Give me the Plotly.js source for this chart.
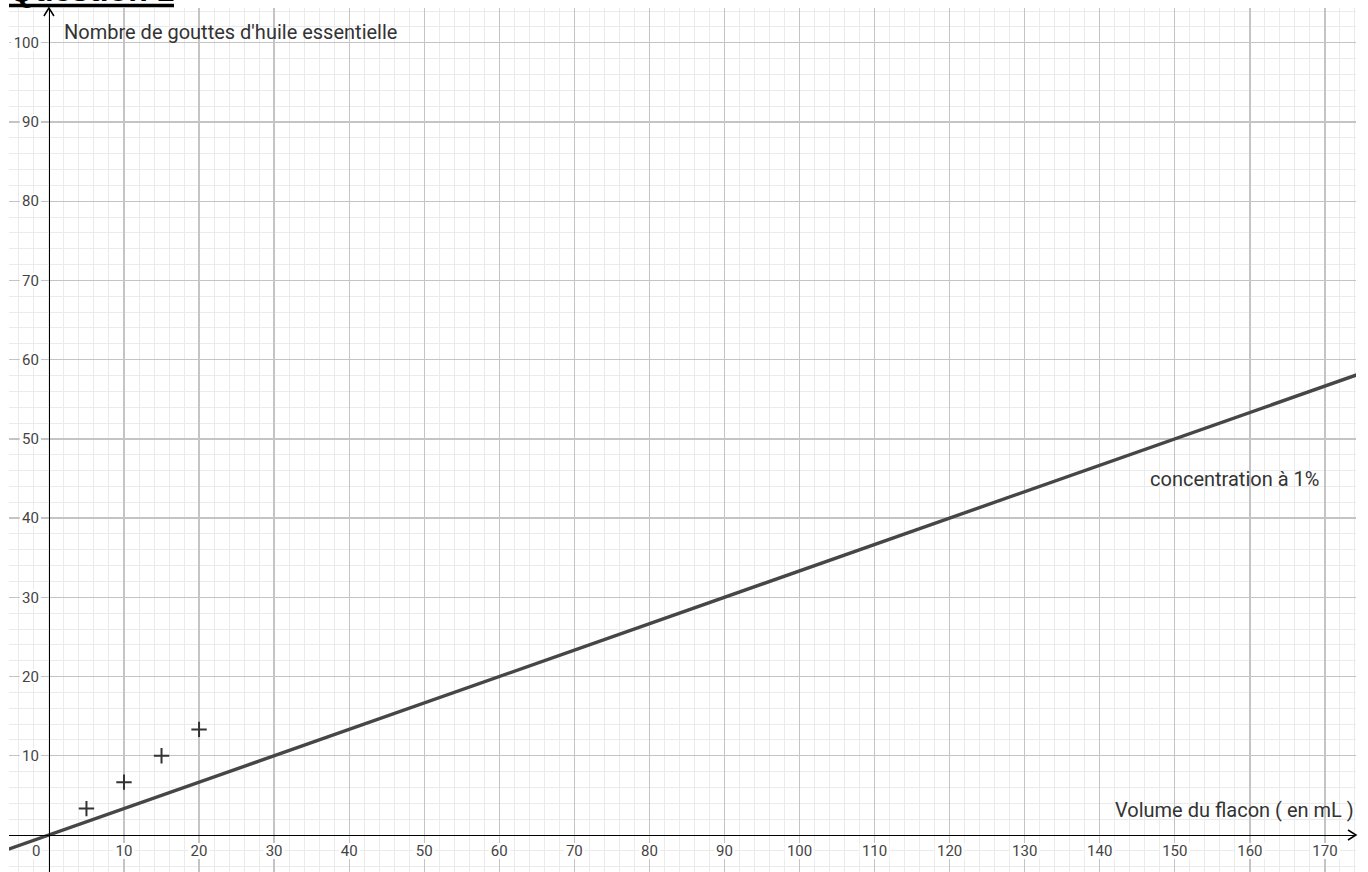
<!DOCTYPE html>
<html>
<head>
<meta charset="utf-8">
<script src="https://cdn.plot.ly/plotly-3.0.1.min.js"></script>
<style>
  html, body { margin: 0; padding: 0; background: #fff; overflow: hidden; }
  #chart { width: 1368px; height: 872px; }
</style>
</head>
<body>
<div id="chart"></div>
<script>
// ---- data ----
const xRange = [-5.32, 174.14];
const yRange = [-4.67, 104.38];
const xTicks = [10, 20, 30, 40, 50, 60, 70, 80, 90, 100, 110, 120, 130, 140, 150, 160, 170];
const yTicks = [10, 20, 30, 40, 50, 60, 70, 80, 90, 100];
const xTickLabels = ["10", "20", "30", "40", "50", "60", "70", "80", "90", "100", "110", "120", "130", "140", "150", "160", "170"];
const yTickLabels = ["10", "20", "30", "40", "50", "60", "70", "80", "90", "100"];
const lineX = [-6, 175];          // droite "concentration à 1%"
const lineY = [-2, 58.33];
const pointsX = [5, 10, 15, 20];  // points (+)
const pointsY = [3.33, 6.67, 10, 13.33];
const originLabel = "0";
const yTitle = "Nombre de gouttes d'huile essentielle";
const xTitle = "Volume du flacon ( en mL )";
const lineLabel = "concentration à 1%";
const headerText = "Question 1";

// ---- styles ----
const FONT = "Roboto, 'Noto Sans', sans-serif";
const tickFont = { family: FONT, size: 15, color: "#444" };
const labelFont = { family: FONT, size: 20, color: "#333" };

const yPos = (0 - xRange[0]) / (xRange[1] - xRange[0]);
const xPos = (0 - yRange[0]) / (yRange[1] - yRange[0]);

const traces = [
  {
    x: lineX, y: lineY, type: "scatter", mode: "lines",
    line: { color: "#464646", width: 3.4 }, hoverinfo: "skip", showlegend: false
  },
  {
    x: pointsX, y: pointsY, type: "scatter", mode: "markers",
    marker: { symbol: "cross-thin", size: 11, line: { color: "#333", width: 2 }, color: "#333" },
    hoverinfo: "skip", showlegend: false
  }
];

// white backgrounds behind tick labels (they hide the grid in the reference)
const shapes = [];
xTickLabels.forEach(function (t, i) {
  const w = t.length * 8.6 + 4;
  shapes.push({
    type: "rect", layer: "between",
    xref: "x", xsizemode: "pixel", xanchor: xTicks[i], x0: -w / 2, x1: w / 2,
    yref: "y", ysizemode: "pixel", yanchor: 0, y0: -8, y1: -24,
    fillcolor: "#fff", line: { width: 0 }
  });
});
yTickLabels.forEach(function (t, i) {
  const w = t.length * 8.6 + 4;
  shapes.push({
    type: "rect", layer: "between",
    xref: "x", xsizemode: "pixel", xanchor: 0, x0: -8, x1: -8 - w,
    yref: "y", ysizemode: "pixel", yanchor: yTicks[i], y0: -7.5, y1: 7.5,
    fillcolor: "#fff", line: { width: 0 }
  });
});
// origin label background
shapes.push({
  type: "rect", layer: "between",
  xref: "x", xsizemode: "pixel", xanchor: 0, x0: -19, x1: -7,
  yref: "y", ysizemode: "pixel", yanchor: 0, y0: -8, y1: -24,
  fillcolor: "#fff", line: { width: 0 }
});
// axis arrow heads
shapes.push({
  type: "path", layer: "above",
  xref: "x", xsizemode: "pixel", xanchor: 0,
  yref: "paper", ysizemode: "pixel", yanchor: 1,
  path: "M -5 -8 L 0 0 L 5 -8",
  line: { color: "#000", width: 1.5 }
});
shapes.push({
  type: "path", layer: "above",
  xref: "paper", xsizemode: "pixel", xanchor: 1,
  yref: "y", ysizemode: "pixel", yanchor: 0,
  path: "M -8 5 L 0 0 L -8 -5",
  line: { color: "#000", width: 1.5 }
});
// header underline
shapes.push({
  type: "line", layer: "above",
  xref: "paper", xsizemode: "pixel", xanchor: 0, x0: 0, x1: 165,
  yref: "paper", ysizemode: "pixel", yanchor: 1, y0: 2.5, y1: 2.5,
  line: { color: "#000", width: 3.5 }
});

const annotations = [
  { x: 0, y: 0, xref: "x", yref: "y", text: originLabel, showarrow: false,
    xanchor: "center", yanchor: "middle", xshift: -13, yshift: -16, font: tickFont },
  { x: 1.75, y: 101.3, xref: "x", yref: "y", text: yTitle, showarrow: false,
    xanchor: "left", yanchor: "middle", font: labelFont },
  { x: 174.14, y: 3.16, xref: "x", yref: "y", text: xTitle, showarrow: false,
    xanchor: "right", yanchor: "middle", font: labelFont },
  { x: 158, y: 44.9, xref: "x", yref: "y", text: lineLabel, showarrow: false,
    xanchor: "center", yanchor: "middle", font: labelFont },
  { x: 0, y: 1, xref: "paper", yref: "paper", text: "<b>" + headerText + "</b>", showarrow: false,
    xanchor: "left", yanchor: "bottom", xshift: -2, yshift: -2.5,
    font: { family: "'Liberation Sans', Arial, sans-serif", size: 32, color: "#000" } }
];

const layout = {
  width: 1368, height: 872,
  margin: { l: 9, r: 12, t: 8, b: 0, pad: 0 },
  paper_bgcolor: "#fff", plot_bgcolor: "#fff",
  showlegend: false,
  xaxis: {
    range: xRange, anchor: "free", position: xPos,
    tickmode: "array", tickvals: xTicks, ticktext: xTickLabels,
    ticks: "", showline: true, linecolor: "#000", linewidth: 1.5,
    showgrid: true, gridcolor: "#c4c4c4", gridwidth: 1.3,
    minor: { dtick: 2, showgrid: true, gridcolor: "#ebebeb", gridwidth: 1, ticks: "" },
    zeroline: false, tickfont: tickFont, ticklabelstandoff: 2, fixedrange: true
  },
  yaxis: {
    range: yRange, anchor: "free", position: yPos,
    tickmode: "array", tickvals: yTicks, ticktext: yTickLabels,
    ticks: "", showline: true, linecolor: "#000", linewidth: 1.5,
    showgrid: true, gridcolor: "#c4c4c4", gridwidth: 1.3,
    minor: { dtick: 2, showgrid: true, gridcolor: "#ebebeb", gridwidth: 1, ticks: "" },
    zeroline: false, tickfont: tickFont, ticklabelstandoff: 7, fixedrange: true
  },
  shapes: shapes,
  annotations: annotations
};

Plotly.newPlot("chart", traces, layout, { staticPlot: true, displayModeBar: false });
</script>
</body>
</html>
